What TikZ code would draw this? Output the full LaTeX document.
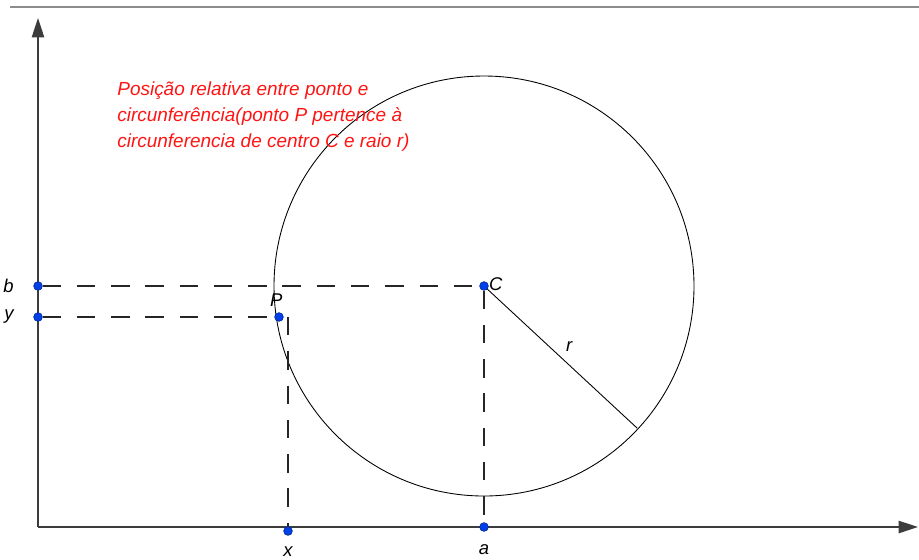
\documentclass[tikz,border=0pt]{standalone}
\usepackage{fontspec}
\setmainfont{Liberation Sans}
\usetikzlibrary{arrows.meta,positioning}
\definecolor{ptblue}{RGB}{0,64,230}
\definecolor{axisgray}{RGB}{60,60,60}
\definecolor{txtred}{RGB}{255,20,20}

\begin{document}
\begin{tikzpicture}[
  x=0.02cm, y=-0.02cm,
  pt/.style={circle, fill=ptblue, draw=ptblue!60!black, line width=0.3pt,
             inner sep=0pt, minimum size=5pt},
  lbl/.style={font=\itshape\fontsize{10.5}{12}\selectfont, inner sep=1pt},
  axis/.style={axisgray, line width=0.8pt, -{Triangle[length=11pt,width=7pt]}},
  guide/.style={black!85, line width=0.6pt, dash pattern=on 10.5pt off 9pt}
]
\useasboundingbox (0,0) rectangle (919,559);
% frame line at the top
\draw[black!45, line width=0.8pt] (10,7) -- (919,7);

% axes
\coordinate (O) at (38,527);
\coordinate (ytip) at (38,18);
\coordinate (xtip) at (918,527);
\draw[axis] (O) -- (ytip);
\draw[axis] (O) -- (xtip);

% circle and radius
\coordinate (C0) at (484,286);
\draw[black, line width=0.5pt] (C0) circle[radius=210];
\coordinate (R) at (637,428);
\draw[black, line width=0.5pt] (C0) -- node[lbl, above right=2pt and 2pt, pos=0.5] (rlab) {r} (R);

% points
\node[pt] (C) at (484,286) {};
\node[pt] (P) at (279,317) {};
\node[pt] (b) at (38,286) {};
\node[pt] (y) at (38,317) {};
\node[pt] (x) at (288,531) {};
\node[pt] (a) at (484,527) {};

% dashed guides
\draw[guide] (b) -- (C);
\draw[guide] (y) -- (P);
\draw[guide] (C) -- (a);
\draw[guide] (x |- P) -- (x);

% labels
\node[lbl, left=10pt of b] (blab) {b};
\node[lbl, left=10pt of y] (ylab) {y};
\node[lbl, below=5pt of x] (xlab) {x};
\node[lbl, below=6pt of a] (alab) {a};
\node[lbl, above left=3pt and -5pt of P] (Plab) {P};
\node[lbl, right=-1pt of C, yshift=1pt] (Clab) {C};

% caption
\node[anchor=north west, inner sep=0pt, align=left, text=txtred,
      font=\itshape\fontsize{10.8}{15}\selectfont] (title) at (117,81)
  {Posição relativa entre ponto e\\
   circunferência(ponto P pertence à\\
   circunferencia de centro C e raio r)};
\end{tikzpicture}
\end{document}
